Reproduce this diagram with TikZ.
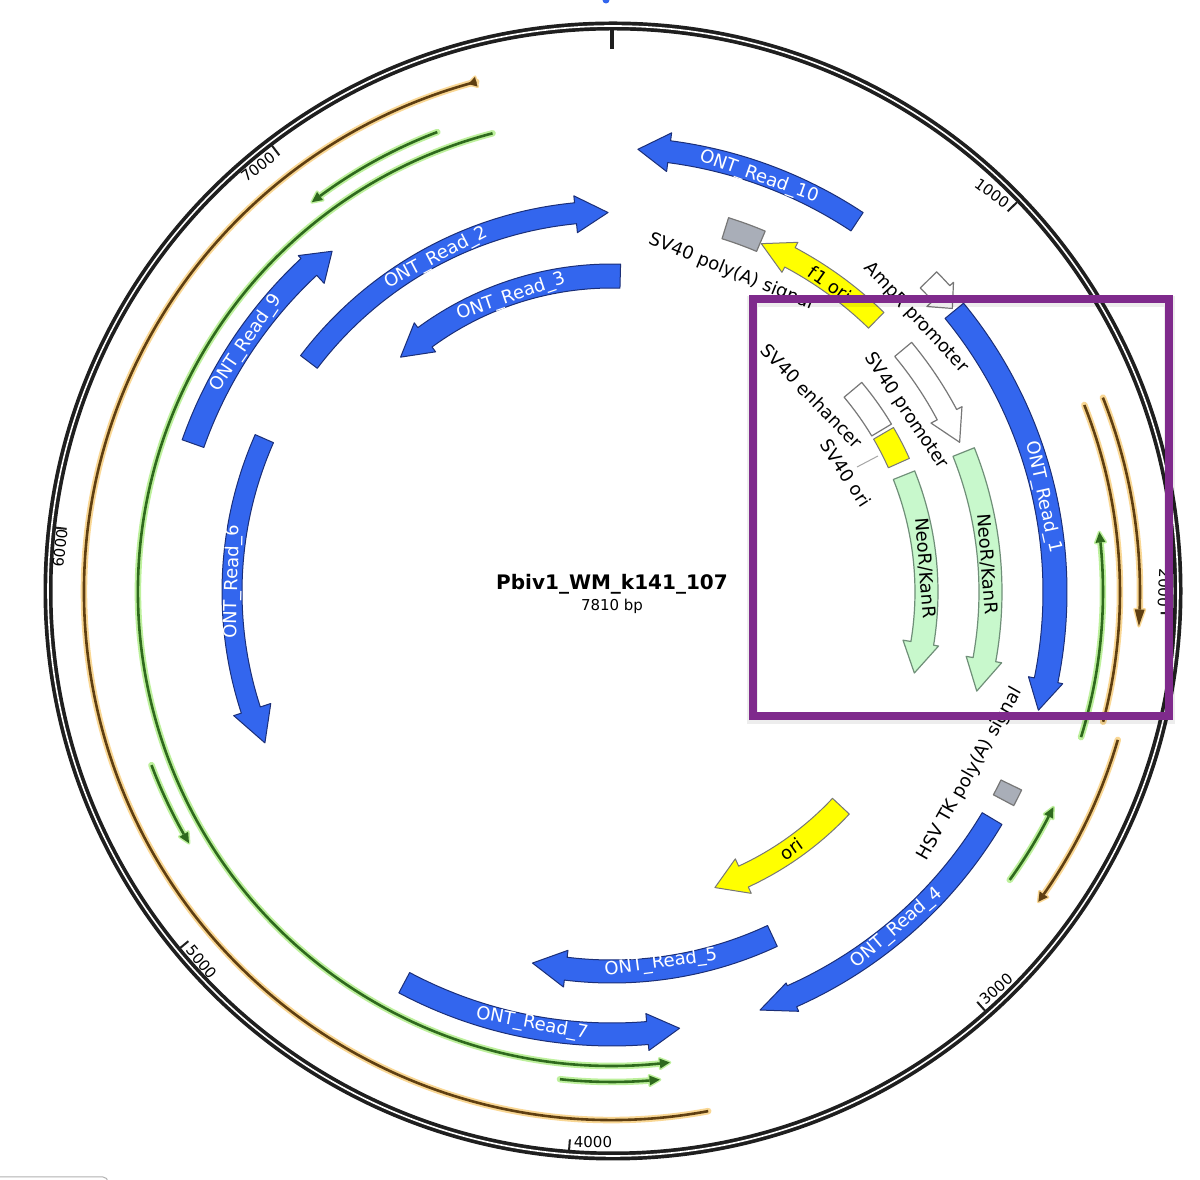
\documentclass[tikz,border=0pt]{standalone}
\usepackage{fontspec}
\setmainfont{DejaVu Sans}
\definecolor{rblue}{HTML}{3366EE}
\definecolor{rnavy}{HTML}{1B2F78}
\definecolor{rgreen}{HTML}{C8F8CC}
\definecolor{rgreenl}{HTML}{6F8F78}
\definecolor{ryellow}{HTML}{FFFF00}
\definecolor{rgrey}{HTML}{A9AEB8}
\definecolor{redge}{HTML}{777777}
\definecolor{rpurple}{HTML}{7F2A8C}
\definecolor{oglow}{HTML}{F9D794}
\definecolor{odark}{HTML}{5F3F12}
\definecolor{gglow}{HTML}{BDF09C}
\definecolor{gdark}{HTML}{2F6A1E}
\tikzset{
  x=1pt,y=1pt,
  readshape/.style={fill=rblue,draw=rnavy,line width=1pt,line join=round},
  neoshape/.style={fill=rgreen,draw=rgreenl,line width=1.2pt,line join=round},
  yelshape/.style={fill=ryellow,draw=redge,line width=1pt,line join=round},
  whiteshape/.style={fill=white,draw=redge,line width=1.2pt,line join=round},
  greyshape/.style={fill=rgrey,draw=redge,line width=1.2pt,line join=round},
  readlab/.style={text=white,font=\fontsize{18}{18}\selectfont,inner sep=0pt},
  blacklab/.style={text=black,font=\fontsize{18}{18}\selectfont,inner sep=0pt},
  ticklab/.style={text=black,font=\fontsize{15}{15}\selectfont,inner sep=0pt},
}
% tail angle, head base angle, tip angle, r in, r out, head r in, head r out, style
\newcommand{\feat}[8]{%
  \path[#8] ({90-(#1)}:#5pt) arc[start angle={90-(#1)},end angle={90-(#2)},radius=#5pt]
    -- ({90-(#2)}:#7pt) -- ({90-(#3)}:{(#6+#7)/2*1pt})
    -- ({90-(#2)}:#6pt) -- ({90-(#2)}:#4pt)
    arc[start angle={90-(#2)},end angle={90-(#1)},radius=#4pt] -- cycle;}
% a1, a2, r in, r out, style
\newcommand{\boxarc}[5]{%
  \path[#5] ({90-(#1)}:#4pt) arc[start angle={90-(#1)},end angle={90-(#2)},radius=#4pt]
    -- ({90-(#2)}:#3pt) arc[start angle={90-(#2)},end angle={90-(#1)},radius=#3pt] -- cycle;}
% thin line with halo, no head: a1, a2, r, halo, dark
\newcommand{\thinline}[5]{%
  \draw[#4,line width=6.5pt,line cap=round] ({90-(#1)}:#3pt) arc[start angle={90-(#1)},end angle={90-(#2)},radius=#3pt];
  \draw[#5,line width=2.6pt] ({90-(#1)}:#3pt) arc[start angle={90-(#1)},end angle={90-(#2)},radius=#3pt];}
% thin line with head: a1, head base, tip, r, halo, dark
\newcommand{\thinarrow}[6]{%
  \draw[#5,line width=6.5pt,line cap=round] ({90-(#1)}:#4pt) arc[start angle={90-(#1)},end angle={90-(#2)},radius=#4pt];
  \path[fill=#5,draw=#5,line width=3pt,line join=round] ({90-(#2)}:{(#4+5)*1pt}) -- ({90-(#3)}:#4pt) -- ({90-(#2)}:{(#4-5)*1pt}) -- cycle;
  \draw[#6,line width=2.6pt] ({90-(#1)}:#4pt) arc[start angle={90-(#1)},end angle={90-(#2)},radius=#4pt];
  \path[fill=#6] ({90-(#2)}:{(#4+5)*1pt}) -- ({90-(#3)}:#4pt) -- ({90-(#2)}:{(#4-5)*1pt}) -- cycle;}
% name, px x, px y, rotation, style, text
\newcommand{\lab}[6]{\node[#5,rotate=#4] (#1) at (#2,{1180-(#3)}) {#6};}
\begin{document}
\begin{tikzpicture}
\useasboundingbox (0,0) rectangle (1200,1180);
\clip (0,0) rectangle (1200,1180);
\fill[white] (0,0) rectangle (1200,1180);
% clipped remains at the picture's edge
\fill[rblue] (606,1180) circle (3.5);
\draw[black!30,line width=1pt,rounded corners=5pt] (-8,-10) -- (-8,3) -- (108,3) -- (108,-10);
% backbone
\begin{scope}[shift={(613,589)}]
\draw[black!88,line width=9pt] (0,0) circle (565pt);
\draw[white,line width=1.6pt] (0,0) circle (565pt);
\end{scope}
\begin{scope}[shift={(612,588)}]
\draw[black!88,line width=3.5pt] (90:543pt) -- (90:564pt);
\foreach \a in {46.1,92.2,138.3,184.4,230.5,276.6,322.7}
  \draw[black!88,line width=2pt] ({90-\a}:549pt) -- ({90-\a}:562pt);
% thin lines
\thinarrow{169.5}{345.1}{344.2}{528}{oglow}{odark}
\thinarrow{68.4+0}{91.9}{93.7}{528}{oglow}{odark}
\thinline{68.4}{104.8}{508}{oglow}{odark}
\thinarrow{106.3}{125}{126}{527}{oglow}{odark}
\thinarrow{-14.6+360}{174.2}{173}{474}{gglow}{gdark}
\thinarrow{-20.8}{-36.4}{-37.6}{492}{gglow}{gdark}
\thinarrow{-110.6}{-119.5}{-120.7}{492}{gglow}{gdark}
\thinarrow{186.1}{175.6}{174.4}{490}{gglow}{gdark}
\thinarrow{107.2}{84.2}{83}{491}{gglow}{gdark}
\thinarrow{125.9}{117.2}{116}{491}{gglow}{gdark}
% blue reads
\feat{50.6}{101.5}{105.5}{431}{455}{425}{460}{readshape}
\feat{33.5}{7.4}{3.35}{433}{455}{424}{463}{readshape}
\feat{-52.8}{-5.5}{-0.6}{370}{391}{361}{398}{readshape}
\feat{1.5}{-36.3}{-42}{304}{328}{298}{334}{readshape}
\feat{-70.5}{-43}{-39.4}{433}{456}{422}{460}{readshape}
\feat{-66.2}{-108.1}{-113.5}{370}{390}{359}{398}{readshape}
\feat{208}{175.4}{171.2}{431}{454}{423}{460}{readshape}
\feat{155}{187}{192.1}{368}{391}{361}{398}{readshape}
\feat{120.8}{156}{160.5}{431}{454}{428}{459}{readshape}
% yellow
\feat{133.1}{155.2}{160.8}{302}{325}{294}{332}{yelshape}
\feat{44.2}{28}{23.2}{368}{390}{362}{396}{yelshape}
\boxarc{59.7}{65.8}{303}{326}{yelshape}
% grey
\boxarc{17.3}{23}{370}{392}{greyshape}
\boxarc{115.8}{118}{432}{455}{greyshape}
% white
\feat{45.4}{47.8}{50.2}{433}{456}{425}{461}{whiteshape}
\feat{50.2}{62.1}{66.7}{368}{390}{361}{396}{whiteshape}
\boxarc{50}{59}{303}{326}{whiteshape}
% green
\feat{68.3}{100.3}{105.2}{367}{390}{360}{396}{neoshape}
\feat{68.2}{99.4}{105}{303}{326}{295}{331}{neoshape}
\end{scope}
% leader
\coordinate (leadA) at (857,{1180-467});
\coordinate (leadB) at (878,{1180-456});
\draw[black!35,line width=1pt] (leadA) -- (leadB);
% labels
\lab{r1}{1043}{497}{-77.6}{readlab}{ONT\_Read\_1}
\lab{r2}{436}{258}{27.8}{readlab}{ONT\_Read\_2}
\lab{r3}{511}{297}{18.9}{readlab}{ONT\_Read\_3}
\lab{r4}{897}{928}{40.3}{readlab}{ONT\_Read\_4}
\lab{r5}{661}{963}{7.5}{readlab}{ONT\_Read\_5}
\lab{r6}{233}{582}{88.5}{readlab}{ONT\_Read\_6}
\lab{r7}{532}{1024}{-10.5}{readlab}{ONT\_Read\_7}
\lab{r9}{246}{343}{55.8}{readlab}{ONT\_Read\_9}
\lab{r10}{759}{177}{-19.5}{readlab}{ONT\_Read\_10}
\lab{f1}{830}{284}{-35.3}{blacklab}{f1 ori}
\lab{ori}{791}{849}{35}{blacklab}{ori}
\lab{neoa}{925}{568}{-85.6}{blacklab}{NeoR/KanR}
\lab{neob}{987}{564}{-85.7}{blacklab}{NeoR/KanR}
\lab{pa}{731}{272}{-22}{blacklab}{SV40 poly(A) signal}
\lab{amp}{916}{318}{-47}{blacklab}{AmpR promoter}
\lab{svp}{906}{411}{-56}{blacklab}{SV40 promoter}
\lab{sve}{812}{396}{-46}{blacklab}{SV40 enhancer}
\lab{svo}{846}{473}{-57}{blacklab}{SV40 ori}
\lab{hsv}{970}{774}{60.5}{blacklab}{HSV TK poly(A) signal}
\lab{t1}{992}{193}{-36}{ticklab}{1000}
\lab{t2}{1164}{588}{-92.2}{ticklab}{2000}
\lab{t3}{996}{989}{41.7}{ticklab}{3000}
\lab{t4}{593}{1142}{0}{ticklab}{4000}
\lab{t5}{202}{962}{-50.5}{ticklab}{5000}
\lab{t6}{60}{548}{83.4}{ticklab}{6000}
\lab{t7}{258}{167}{37.3}{ticklab}{7000}
\node[inner sep=0pt,font=\fontsize{20}{20}\selectfont\bfseries] (title) at (612,{1180-584}) {Pbiv1\_WM\_k141\_107};
\node[inner sep=0pt,font=\fontsize{15}{15}\selectfont] (size) at (612,{1180-606}) {7810 bp};
% purple frame
\draw[black,opacity=.07,line width=11pt] (752.5,{1180-302}) rectangle (1169,{1180-719});
\draw[rpurple,line width=8pt] (752.5,{1180-299.5}) rectangle (1169,{1180-716});
\end{tikzpicture}
\end{document}
